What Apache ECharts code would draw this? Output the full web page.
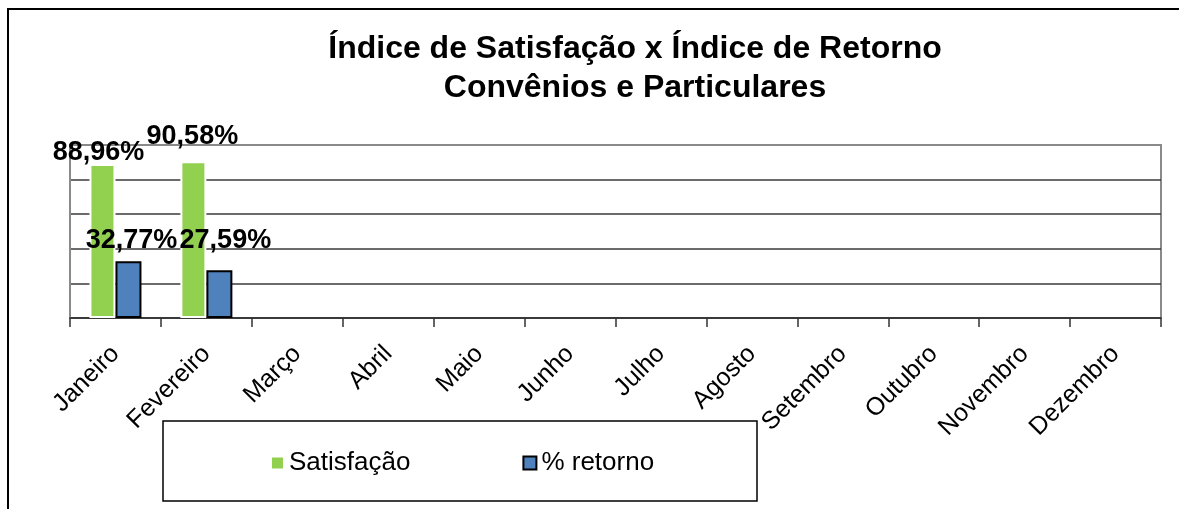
<!DOCTYPE html>
<html>
<head>
<meta charset="utf-8">
<script src="https://cdn.jsdelivr.net/npm/echarts@6/dist/echarts.min.js"></script>
<style>
html,body{margin:0;padding:0;background:#fff;}
#chart{width:1179px;height:509px;}
</style>
</head>
<body>
<div id="chart"></div>
<script>
const months = ['Janeiro','Fevereiro','Março','Abril','Maio','Junho','Julho','Agosto','Setembro','Outubro','Novembro','Dezembro'];
const satisfacao = [88.96, 90.58, null, null, null, null, null, null, null, null, null, null];
const retorno = [32.77, 27.59, null, null, null, null, null, null, null, null, null, null];
const seriesNames = ['Satisfação', '% retorno'];
const titleLines = ['Índice de Satisfação x Índice de Retorno', 'Convênios e Particulares'];

// label placement tweaks (style only, not data)
const satLabelOffsets = [[-4, 7], [-1, -6]];
const retLabelOffsets = [[3, 3], [6, -6]];

const FONT = '"Liberation Sans", Arial, sans-serif';
const fmt = p => p.value == null ? '' : p.value.toFixed(2).replace('.', ',') + '%';
const withOffsets = (vals, offs) => vals.map((v, i) => offs[i] ? { value: v, label: { offset: offs[i] } } : v);

const chart = echarts.init(document.getElementById('chart'));
chart.setOption({
  backgroundColor: '#fff',
  animation: false,
  title: {
    text: titleLines.join('\n'),
    left: 630,
    textAlign: 'center',
    top: 25,
    textStyle: { fontFamily: FONT, fontSize: 32, fontWeight: 'bold', color: '#000', lineHeight: 39 }
  },
  graphic: [
    { type: 'rect', shape: { x: 8, y: 9, width: 1200, height: 600 }, style: { fill: 'none', stroke: '#000', lineWidth: 2 }, z: -1 },
    { type: 'rect', shape: { x: 163, y: 421, width: 594, height: 80 }, style: { fill: '#fff', stroke: '#000', lineWidth: 1.5 }, z: 0 }
  ],
  legend: {
    left: 270,
    top: 450,
    padding: 0,
    itemWidth: 13,
    itemHeight: 13,
    itemGap: 112,
    icon: 'rect',
    z: 5,
    textStyle: { fontFamily: FONT, fontSize: 26, color: '#000' }
  },
  grid: { left: 70, right: 18, top: 145, bottom: 191, show: true, borderColor: '#8a8a8a', borderWidth: 2, backgroundColor: 'transparent' },
  xAxis: {
    type: 'category',
    data: months,
    axisLine: { lineStyle: { color: '#333', width: 1.5 } },
    axisTick: { show: true, length: 9, lineStyle: { color: '#333', width: 1.5 } },
    axisLabel: { rotate: 45, margin: 32, fontFamily: FONT, fontSize: 25, color: '#000', interval: 0 }
  },
  yAxis: {
    type: 'value',
    min: 0, max: 100, interval: 20,
    axisLine: { show: true, lineStyle: { color: '#8a8a8a', width: 2 } },
    axisTick: { show: false },
    axisLabel: { show: false },
    splitLine: { show: true, lineStyle: { color: ['#3a3a3a','#3a3a3a','#3a3a3a','#3a3a3a','#3a3a3a','#8a8a8a'], width: 1.5 } }
  },
  series: [
    {
      name: seriesNames[0], type: 'bar', data: withOffsets(satisfacao, satLabelOffsets),
      barWidth: 26, barGap: '0%',
      itemStyle: { color: '#92D050', borderColor: '#fff', borderWidth: 2 },
      label: { show: true, position: 'top', distance: 5, formatter: fmt, fontFamily: FONT, fontSize: 27, fontWeight: 'bold', color: '#000' }
    },
    {
      name: seriesNames[1], type: 'bar', data: withOffsets(retorno, retLabelOffsets),
      barWidth: 26,
      itemStyle: { color: '#4F81BD', borderColor: '#000', borderWidth: 2 },
      label: { show: true, position: 'top', distance: 10, formatter: fmt, fontFamily: FONT, fontSize: 27, fontWeight: 'bold', color: '#000' }
    }
  ]
});
</script>
</body>
</html>
